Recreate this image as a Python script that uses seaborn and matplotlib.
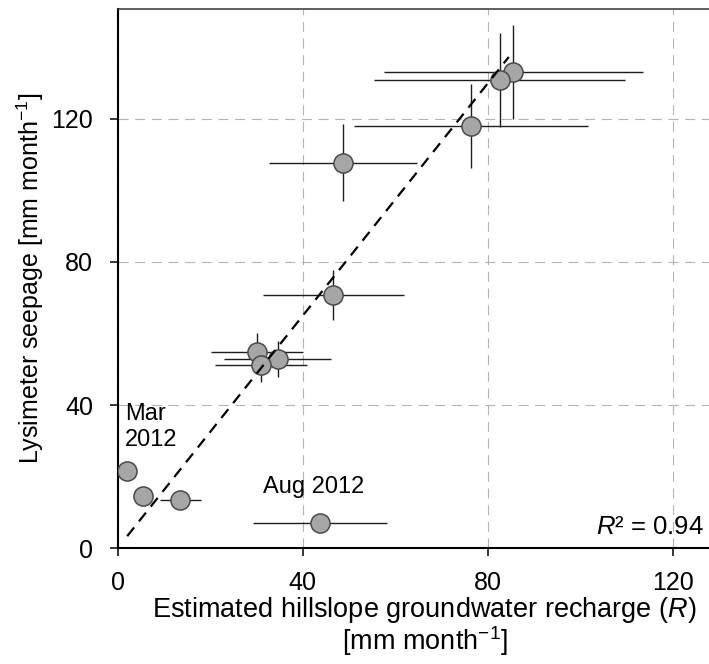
import matplotlib
matplotlib.use("Agg")
import matplotlib.pyplot as plt
import seaborn as sns
import numpy as np
import pandas as pd

# ---- data ----
recharge = [85.6, 82.6, 76.5, 48.8, 46.7, 30.2, 34.6, 31.0, 2.1, 5.6, 13.6, 43.8]
seepage = [133.1, 130.8, 118.0, 107.7, 70.8, 54.7, 52.9, 51.3, 21.6, 14.7, 13.5, 7.1]
recharge_err = [28.0, 27.2, 25.3, 16.0, 15.3, 9.9, 11.5, 10.0, 0, 0, 4.5, 14.5]
seepage_err = [13.1, 13.2, 11.7, 10.7, 7.0, 5.4, 5.0, 5.0, 0, 0, 0, 0]
fit_x = [2.1, 84.6]
fit_y = [3.4, 137.2]
ticks = [0, 40, 80, 120]
r2_text = "0.94"

df = pd.DataFrame({"R": recharge, "S": seepage, "xe": recharge_err, "ye": seepage_err})
fit = pd.DataFrame({"x": fit_x, "y": fit_y})

sns.set_style("white")
plt.rcParams["font.family"] = ["Liberation Sans", "DejaVu Sans"]
plt.rcParams["mathtext.fontset"] = "custom"
plt.rcParams["mathtext.rm"] = "Liberation Sans"
plt.rcParams["mathtext.it"] = "Liberation Sans:italic"
plt.rcParams["text.color"] = "black"
plt.rcParams["axes.labelcolor"] = "black"
plt.rcParams["xtick.color"] = "black"
plt.rcParams["ytick.color"] = "black"

fig = plt.figure(figsize=(7.09, 6.64), dpi=100)
ax = fig.add_axes([117.5 / 709, 115.7 / 664, 592 / 709, 539.3 / 664])

# error bars
ax.errorbar(df["R"], df["S"], xerr=df["xe"], yerr=df["ye"], fmt="none",
            ecolor="#1e1e1e", elinewidth=1.0, capsize=0, zorder=2)

# points
sns.scatterplot(data=df, x="R", y="S", ax=ax, s=190, color="#a6a6a6",
                edgecolor="#4a4a4a", linewidth=1.1, zorder=3, legend=False)

# regression line
sns.lineplot(data=fit, x="x", y="y", ax=ax, color="black", linewidth=1.6,
             zorder=4, estimator=None, sort=False)
ax.lines[-1].set_linestyle((0, (5, 3.5)))

ax.set_xlim(0, 128)
ax.set_ylim(0, 150.6)
ax.set_xticks(ticks)
ax.set_yticks(ticks)
ax.set_xticklabels([str(t) for t in ticks])
ax.set_yticklabels([str(t) for t in ticks])

ax.grid(True, color="#b4b4b4", linewidth=0.8, linestyle=(0, (9, 6)))
ax.set_axisbelow(True)

for s in ["left", "bottom"]:
    ax.spines[s].set_color("black")
    ax.spines[s].set_linewidth(1.5)
ax.spines["top"].set_color("#333333")
ax.spines["top"].set_linewidth(1.1)
ax.spines["right"].set_visible(False)

ax.tick_params(axis="both", direction="out", length=5.5, width=1.1,
               labelsize=18, colors="black", left=True, bottom=True)
ax.tick_params(axis="y", pad=12)
ax.tick_params(axis="x", pad=11)

ax.set_xlabel("Estimated hillslope groundwater recharge ($R$)\n[mm month$^{-1}$]",
              fontsize=19.5, labelpad=2, linespacing=1.0, color="black")
ax.xaxis.set_label_coords(0.519, -0.086, transform=ax.transAxes)
ax.xaxis.label.set_va("top")
ax.set_ylabel("Lysimeter seepage [mm month$^{-1}$]", fontsize=18, labelpad=4,
              color="black")

ax.text(1.6, 40.5, "Mar\n2012", fontsize=17, ha="left", va="top", color="black")
ax.text(31.5, 20.3, "Aug 2012", fontsize=17, ha="left", va="top", color="black")
ax.text(126.8, 6.0, "$R$² = " + r2_text, fontsize=18.5, ha="right", va="center",
        color="black")

fig.savefig("out.png", dpi=100)
